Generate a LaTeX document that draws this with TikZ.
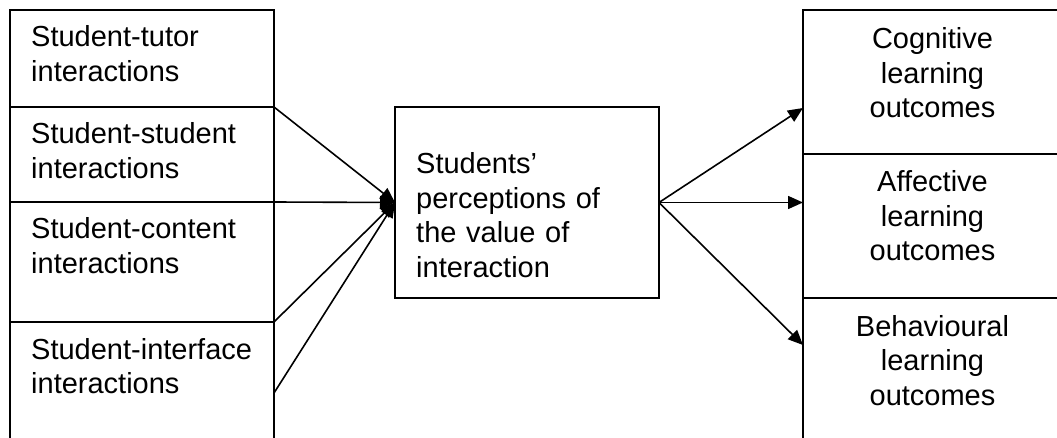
\documentclass[tikz,border=0pt]{standalone}
\usepackage{fontspec}
\setmainfont{Liberation Sans}
\usetikzlibrary{arrows.meta}

\tikzset{
  box/.style={draw, line width=1.8pt, inner sep=0pt, outer sep=0pt, anchor=north west},
  txt/.style={inner sep=0pt, font=\fontsize{29}{34.5}\selectfont},
  link/.style={line width=1.6pt, -{Triangle[length=15pt,width=13pt]}}
}

\begin{document}
\begin{tikzpicture}[x=1pt,y=1pt]
\useasboundingbox (0,0) rectangle (1057,-438);
\clip (0,0) rectangle (1057,-438);

% Interaction boxes (left column)
\node [box, minimum width=264, minimum height=97] (tutor) at (10,-10) {};
\node [box, minimum width=264, minimum height=95] (peer) at (10,-107) {};
\node [box, minimum width=264, minimum height=120] (content) at (10,-202) {};
\node [box, minimum width=264, minimum height=142] (iface) at (10,-322) {};

% Perceptions box (middle)
\node [box, minimum width=264, minimum height=191] (perc) at (395,-107) {};

% Outcome boxes (right column)
\node [box, minimum width=259, minimum height=144] (cog) at (803,-10) {};
\node [box, minimum width=259, minimum height=144] (aff) at (803,-154) {};
\node [box, minimum width=259, minimum height=160] (beh) at (803,-298) {};

% Text Node
\node [txt, text width=240, align=left, anchor=base west] (tutortxt) at ([xshift=21pt,yshift=-37pt]tutor.north west) {Student-tutor\\interactions};
% Text Node
\node [txt, text width=240, align=left, anchor=base west] (peertxt) at ([xshift=21pt,yshift=-37pt]peer.north west) {Student-student\\interactions};
% Text Node
\node [txt, text width=240, align=left, anchor=base west] (contenttxt) at ([xshift=21pt,yshift=-37pt]content.north west) {Student-content\\interactions};
% Text Node
\node [txt, text width=240, align=left, anchor=base west] (ifacetxt) at ([xshift=21pt,yshift=-37pt]iface.north west) {Student-interface\\interactions};
% Text Node
\node [txt, text width=240, align=left, anchor=base west] (perctxt) at ([xshift=21pt,yshift=-67pt]perc.north west) {Students’\\perceptions of\\the value of\\interaction};
% Text Node
\node [txt, text width=259, align=center, anchor=base] (cogtxt) at ([yshift=-39pt]cog.north) {Cognitive\\learning\\outcomes};
% Text Node
\node [txt, text width=259, align=center, anchor=base] (afftxt) at ([yshift=-38pt]aff.north) {Affective\\learning\\outcomes};
% Text Node
\node [txt, text width=259, align=center, anchor=base] (behtxt) at ([yshift=-38pt]beh.north) {Behavioural\\learning\\outcomes};

% Arrows into perceptions
\draw [link] (tutor.south east) -- (perc.west);
\draw [link] (peer.south east) -- (perc.west);
\draw [link] (content.south east) -- (perc.west);
\draw [link] (iface.east) -- (perc.west);

% Arrows out to outcomes
\draw [link] (perc.east) -- ([yshift=46pt]cog.south west);
\draw [link] (perc.east) -- (aff.west |- perc.east);
\draw [link] (perc.east) -- ([yshift=-47pt]beh.north west);

\end{tikzpicture}
\end{document}
